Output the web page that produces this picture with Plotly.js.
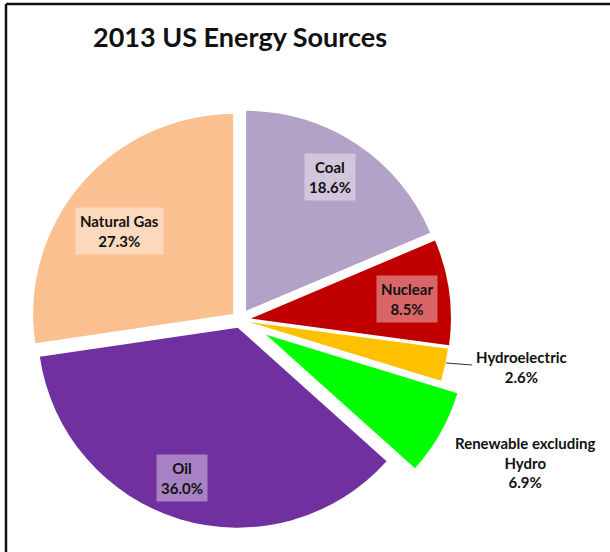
<!DOCTYPE html>
<html>
<head>
<meta charset="utf-8">
<script src="https://cdn.plot.ly/plotly-3.0.1.min.js"></script>
<style>html,body{margin:0;padding:0;background:#fff;overflow:hidden}</style>
</head>
<body>
<div id="chart" style="width:610px;height:552px"></div>
<script>
// ---- data ----
const labels = ["Coal", "Nuclear", "Hydroelectric", "Renewable excluding<br>Hydro", "Oil", "Natural Gas"];
const values = [18.6, 8.5, 2.6, 6.9, 36.0, 27.3];
const colors = ["#B3A2C7", "#C00000", "#FFC000", "#00FF00", "#7030A0", "#FAC090"];
const pulls  = [0.055, 0.055, 0.05, 0.15, 0.04, 0.045];
const titleText = "2013 US Energy Sources";

// label placement (paper px), style only
const W = 610, H = 552;
const labelPos = [[330,177,true],[407,299,true],[521,367,false],[525,462,false],[182,478,true],[119,231,true]];

const annotations = labels.map((lab, i) => ({
  xref: "paper", yref: "paper",
  x: labelPos[i][0] / W, y: 1 - labelPos[i][1] / H,
  xanchor: "center", yanchor: "middle",
  showarrow: false,
  text: "<b>" + lab + "<br>" + values[i].toFixed(1) + "%</b>",
  font: {family: "Lato, 'Open Sans', sans-serif", size: 15, color: "#111"},
  bgcolor: labelPos[i][2] ? "rgba(255,255,255,0.4)" : "rgba(0,0,0,0)",
  borderpad: 4,
  align: "center"
}));

const trace = {
  type: "pie",
  labels: labels,
  values: values,
  marker: {colors: colors, line: {width: 0}},
  pull: pulls,
  sort: false,
  direction: "clockwise",
  rotation: 0,
  textinfo: "none",
  hoverinfo: "label+percent",
  domain: {x: [10 / W, 470 / W], y: [1 - 550 / H, 1 - 90 / H]},
  showlegend: false
};

const layout = {
  width: W, height: H,
  margin: {l: 0, r: 0, t: 0, b: 0},
  paper_bgcolor: "#fff",
  title: {
    text: "<b>" + titleText + "</b>",
    font: {family: "Lato, 'Open Sans', sans-serif", size: 27, color: "#111"},
    x: 240 / W, xanchor: "center", xref: "paper",
    y: 1 - 38 / H, yanchor: "middle", yref: "container"
  },
  annotations: annotations,
  shapes: [
    {type: "line", xref: "paper", yref: "paper", x0: 6 / W, x1: 6 / W, y0: 0, y1: 1 - 4 / H, line: {color: "#111", width: 2.5}},
    {type: "line", xref: "paper", yref: "paper", x0: 6 / W, x1: 1, y0: 1 - 4 / H, y1: 1 - 4 / H, line: {color: "#111", width: 2.5}},
    {type: "line", xref: "paper", yref: "paper", x0: 446 / W, x1: 472 / W, y0: 1 - 363 / H, y1: 1 - 365 / H, line: {color: "#333", width: 1}}
  ]
};

Plotly.newPlot("chart", [trace], layout, {displayModeBar: false, staticPlot: true});
</script>
</body>
</html>
